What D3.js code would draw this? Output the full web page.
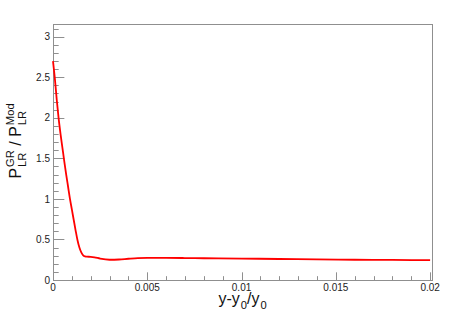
<!DOCTYPE html>
<html>
<head>
<style>
  body { margin: 0; background: #fff; }
  svg { font-family: "Liberation Sans", Arial, sans-serif; }
</style>
</head>
<body>
<div id="chart"></div>
<script src="https://d3js.org/d3.v7.min.js"></script>
<script>
// ratio
var xs = [0, 0.0001, 0.0002, 0.0003, 0.0004, 0.0005, 0.0006, 0.0007, 0.0008, 0.0009,
          0.001, 0.0011, 0.0012, 0.0013, 0.0014, 0.0015, 0.0016, 0.0017, 0.0018, 0.002,
          0.0022, 0.0025, 0.003, 0.0035, 0.004, 0.0045, 0.005, 0.006, 0.007, 0.008,
          0.01, 0.012, 0.014, 0.016, 0.018, 0.02];
var ratio = [2.70, 2.48, 2.22, 1.99, 1.80, 1.63, 1.46, 1.30, 1.15, 1.00,
             0.87, 0.74, 0.61, 0.49, 0.40, 0.34, 0.305, 0.292, 0.288, 0.286,
             0.28, 0.264, 0.25, 0.253, 0.262, 0.27, 0.274, 0.273, 0.271, 0.268,
             0.264, 0.259, 0.254, 0.25, 0.247, 0.244];

var xMajor = [0, 0.005, 0.01, 0.015, 0.02];
var xLabels = ["0", "0.005", "0.01", "0.015", "0.02"];
var yMajor = [0, 0.5, 1, 1.5, 2, 2.5, 3];
var yLabels = ["0", "0.5", "1", "1.5", "2", "2.5", "3"];

var W = 473, H = 321;
var margin = {top: 24, right: 41, bottom: 41, left: 53};
var width = W - margin.left - margin.right,
    height = H - margin.top - margin.bottom;

var svg = d3.select("#chart").append("svg")
    .attr("width", W)
    .attr("height", H);

var g = svg.append("g")
    .attr("transform", "translate(" + margin.left + "," + margin.top + ")");

var x = d3.scaleLinear().domain([0, 0.0201]).range([0, width]);
var y = d3.scaleLinear().domain([0, 3.157]).range([height, 0]);

var axisColor = "#8f8f8f";

// frame
g.append("rect")
    .attr("x", 0.5).attr("y", 0.5)
    .attr("width", width).attr("height", height)
    .attr("fill", "none")
    .attr("stroke", axisColor)
    .attr("stroke-width", 1);

// ticks pointing inward, ROOT style
var xMinor = d3.range(0, 0.0201, 0.001);
var yMinor = d3.range(0, 3.157, 0.1);
var xLen = 0.03 * height, yLen = 0.03 * width;

g.append("g").selectAll("line")
    .data(xMinor)
    .enter().append("line")
    .attr("x1", function (d) { return Math.round(x(d)) + 0.5; })
    .attr("x2", function (d) { return Math.round(x(d)) + 0.5; })
    .attr("y1", height)
    .attr("y2", function (d, i) { return height - (i % 5 == 0 ? xLen : xLen / 2); })
    .attr("stroke", axisColor);

g.append("g").selectAll("line")
    .data(yMinor)
    .enter().append("line")
    .attr("y1", function (d) { return Math.round(y(d)) + 0.5; })
    .attr("y2", function (d) { return Math.round(y(d)) + 0.5; })
    .attr("x1", 0)
    .attr("x2", function (d, i) { return i % 5 == 0 ? yLen : yLen / 2; })
    .attr("stroke", axisColor);

// tick labels
g.append("g").selectAll("text")
    .data(xMajor)
    .enter().append("text")
    .attr("x", function (d) { return x(d); })
    .attr("y", height + 10.5)
    .attr("text-anchor", "middle")
    .attr("font-size", 10)
    .attr("fill", "#222")
    .text(function (d, i) { return xLabels[i]; });

g.append("g").selectAll("text")
    .data(yMajor)
    .enter().append("text")
    .attr("x", -3)
    .attr("y", function (d) { return y(d); })
    .attr("dy", "0.36em")
    .attr("text-anchor", "end")
    .attr("font-size", 10)
    .attr("fill", "#222")
    .text(function (d, i) { return yLabels[i]; });

// curve
var line = d3.line()
    .x(function (d, i) { return x(xs[i]); })
    .y(function (d) { return y(d); })
    .curve(d3.curveMonotoneX);

g.append("path")
    .datum(ratio)
    .attr("d", line)
    .attr("fill", "none")
    .attr("stroke", "#ff0000")
    .attr("stroke-width", 1.8);

// little latex-like layout: parts are {t} or {t, sup, sub}
function latex(parent, parts, size) {
    var t = parent.append("g");
    var cx = 0;
    parts.forEach(function (p) {
        var base = t.append("text").attr("x", cx).attr("y", 0)
            .attr("font-size", size).attr("fill", "#111")
            .style("white-space", "pre").text(p.t);
        cx += base.node().getComputedTextLength();
        var adv = 0;
        if (p.sup) {
            var s = t.append("text").attr("x", cx + 1).attr("y", -size * 0.45)
                .attr("font-size", size * 0.7).attr("fill", "#111").text(p.sup);
            adv = Math.max(adv, s.node().getComputedTextLength() + 1);
        }
        if (p.sub) {
            var b = t.append("text").attr("x", cx + 1).attr("y", size * 0.3)
                .attr("font-size", size * 0.7).attr("fill", "#111").text(p.sub);
            adv = Math.max(adv, b.node().getComputedTextLength() + 1);
        }
        cx += adv;
    });
    return {g: t, w: cx};
}

var xt = latex(svg, [{t: "y-y", sub: "0"}, {t: "/y", sub: "0"}], 16);
xt.g.attr("transform", "translate(" + (margin.left + width / 2 - xt.w / 2) + "," + 304 + ")");

var yt = latex(svg, [{t: "P", sup: "GR", sub: "LR"}, {t: " / P", sup: "Mod", sub: "LR"}], 16);
yt.g.attr("transform", "translate(21," + (141 + yt.w / 2) + ") rotate(-90)");
</script>
</body>
</html>
